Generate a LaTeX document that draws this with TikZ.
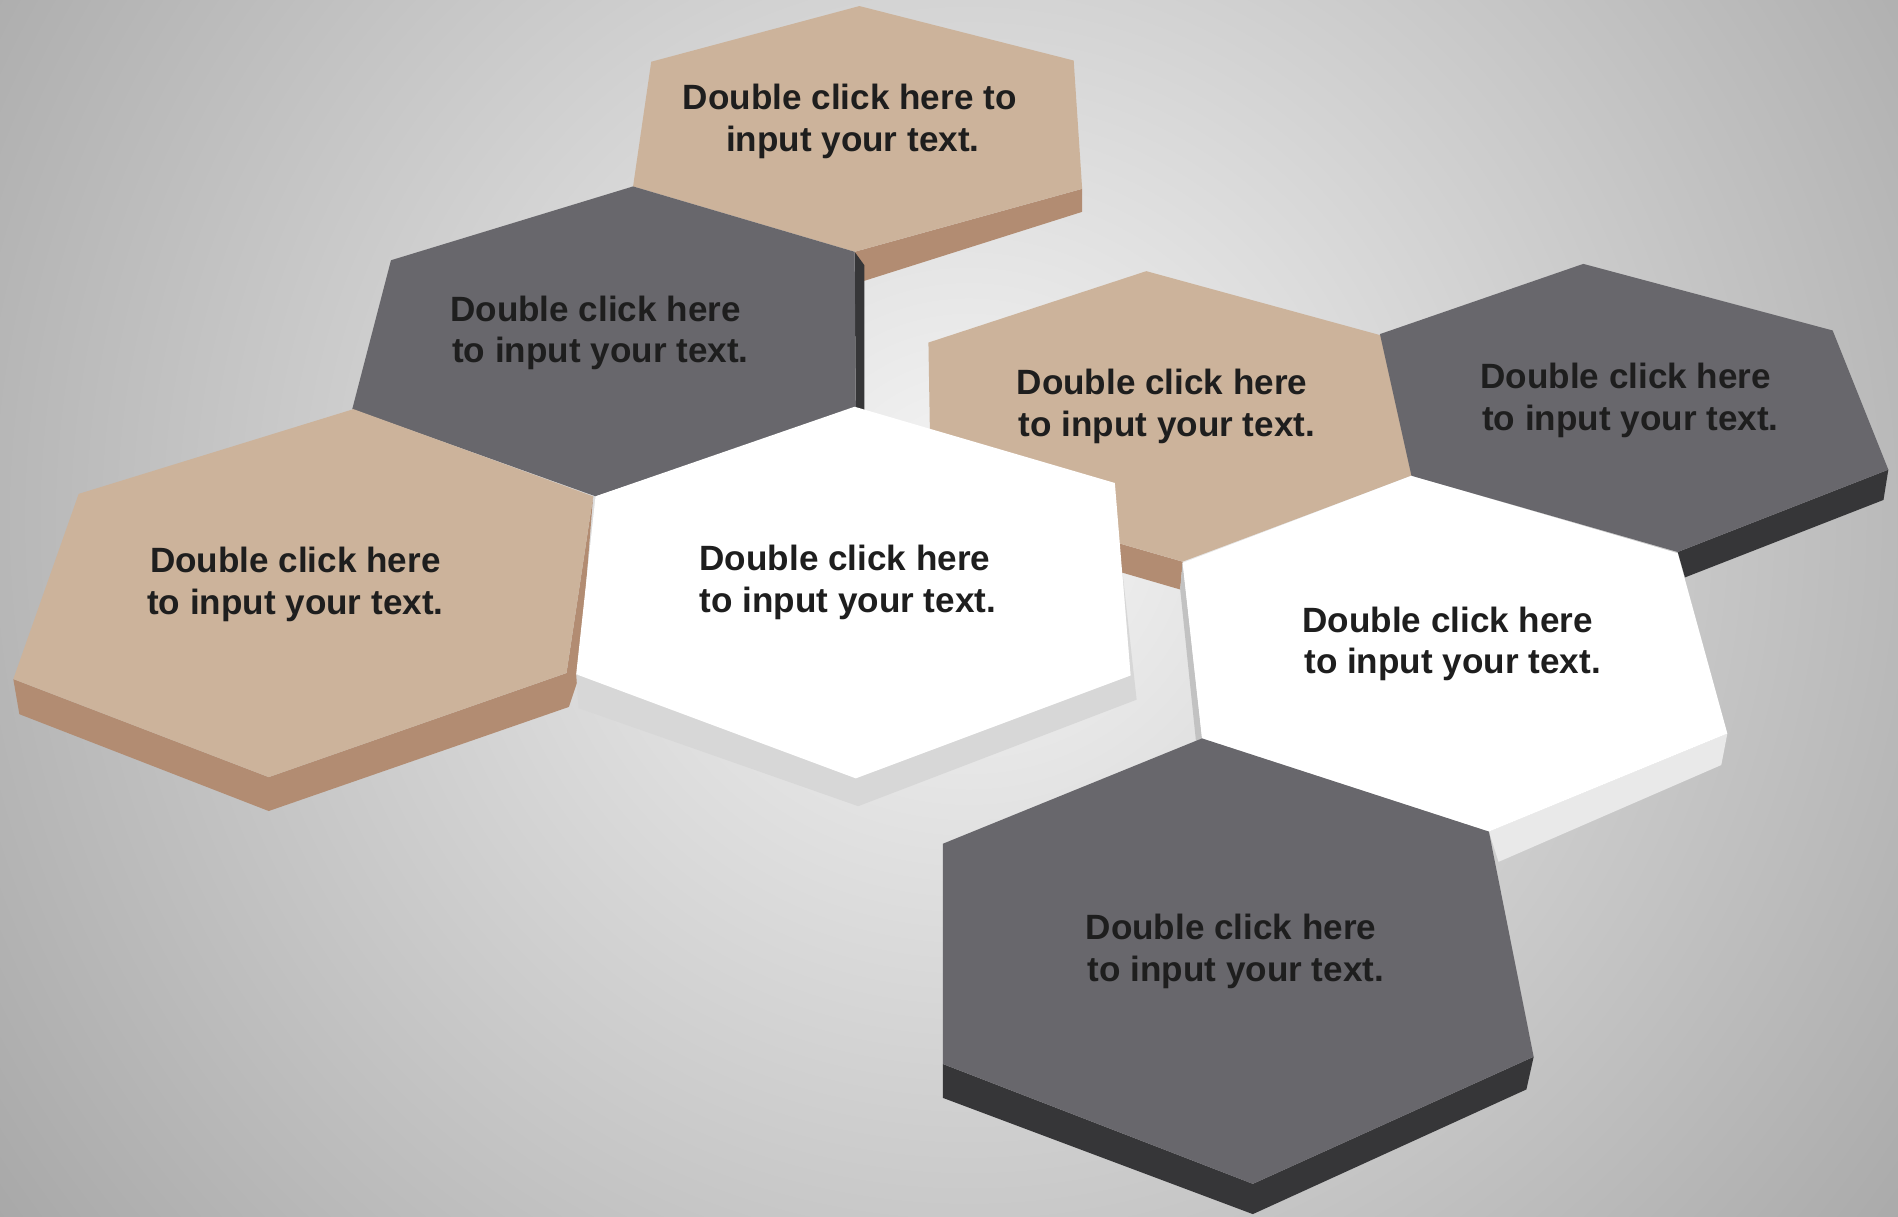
\documentclass[tikz,border=0pt]{standalone}
\usepackage{fontspec}
\setmainfont{Liberation Sans}
\definecolor{bgin}{HTML}{F6F6F6}
\definecolor{bgout}{HTML}{A0A0A0}
\definecolor{tanface}{HTML}{CCB39B}
\definecolor{tanside}{HTML}{B28C72}
\definecolor{grayface}{HTML}{68676C}
\definecolor{grayside}{HTML}{363638}
\definecolor{whiteside}{HTML}{D7D7D7}
\definecolor{whiteside2}{HTML}{E9E9E9}
\definecolor{whiteedge}{HTML}{C2C2C2}
\definecolor{txt}{HTML}{1E1E1E}
\tikzset{
  tanf/.style={fill=tanface},
  tans/.style={fill=tanside},
  grayf/.style={fill=grayface},
  grays/.style={fill=grayside},
  whitef/.style={fill=white},
  lbl/.style={font=\fontsize{29}{34.5}\selectfont\bfseries, text=txt, align=center, inner sep=0pt}
}
\newcommand{\lnsh}{\hspace*{8pt}}
\begin{document}
\begin{tikzpicture}[x=1pt,y=-1pt]
\useasboundingbox (0,0) rectangle (1568,1005);
\begin{scope}
\clip (0,0) rectangle (1568,1005);
\fill[bgout] (0,0) rectangle (1568,1005);
\shade[inner color=bgin, outer color=bgout] (800,430) circle[radius=1090];
\end{scope}
% top tan
\fill[tans] (894,156) -- (894,175) -- (714,232) -- (706,208) -- cycle;
\fill[tanf] (710,5) -- (887,50) -- (894,156) -- (706,208) -- (523,154) -- (538,51) -- cycle;
% gray upper
\fill[grays] (706,208) -- (714,219) -- (714,341) -- (707,337) -- cycle;
\fill[grayf] (523,154) -- (706,208) -- (707,337) -- (492,410) -- (291,338) -- (323,215) -- cycle;
% tan left
\fill[tans] (490,410) -- (478,560) -- (470,584) -- (222,670) -- (16,590) -- (11,561) -- (222,642) -- (468,556) -- cycle;
\fill[tanf] (292,338) -- (490,410) -- (468,556) -- (222,642) -- (11,561) -- (65,408) -- cycle;
% white center-left side
\fill[fill=whiteside] (927,470) -- (939,578) -- (709,666) -- (478,585) -- (476,557) -- (707,643) -- (934,558) -- cycle;
% tan center-right
\fill[tans] (769,404) -- (977,464) -- (975,487) -- (769,427) -- cycle;
\fill[tanf] (947,224) -- (1148,279) -- (1166,393) -- (977,464) -- (769,404) -- (767,283) -- cycle;
% white center-left face
\fill[whitef] (706,336) -- (921,399) -- (934,558) -- (707,643) -- (476,557) -- (492,410) -- cycle;
% white right
\fill[fill=whiteside2] (1427,606) -- (1422,632) -- (1238,712) -- (1230,687) -- cycle;
\fill[fill=whiteedge] (977,465) -- (975,487) -- (988,612) -- (993,610) -- cycle;
\fill[whitef] (1166,393) -- (1386,457) -- (1427,606) -- (1230,687) -- (993,610) -- (977,465) -- cycle;
% gray top right
\fill[grays] (1560,388) -- (1556,413) -- (1392,477) -- (1386,456) -- cycle;
\fill[grayf] (1308,218) -- (1514,273) -- (1560,388) -- (1386,456) -- (1166,393) -- (1140,276) -- cycle;
% gray bottom
\fill[grays] (1267,873) -- (1261,900) -- (1035,1003) -- (779,907) -- (779,879) -- (1035,978) -- cycle;
\fill[grayf] (993,610) -- (1230,687) -- (1267,873) -- (1035,978) -- (779,879) -- (779,697) -- cycle;
% texts
\node[lbl] (t1) at (702,100) {Double click here to\\\hspace*{5pt}input your text.};
\node[lbl] (t2) at (492,275) {Double click here\\\lnsh to input your text.};
\node[lbl] (t3) at (244,483) {Double click here\\to input your text.};
\node[lbl] (t4) at (698,481) {Double click here\\\hspace*{5pt}to input your text.};
\node[lbl] (t5) at (960,336) {Double click here\\\lnsh to input your text.};
\node[lbl] (t6) at (1343,331) {Double click here\\\lnsh to input your text.};
\node[lbl] (t7) at (1196,532) {Double click here\\\lnsh to input your text.};
\node[lbl] (t8) at (1017,786) {Double click here\\\lnsh to input your text.};
\end{tikzpicture}
\end{document}
